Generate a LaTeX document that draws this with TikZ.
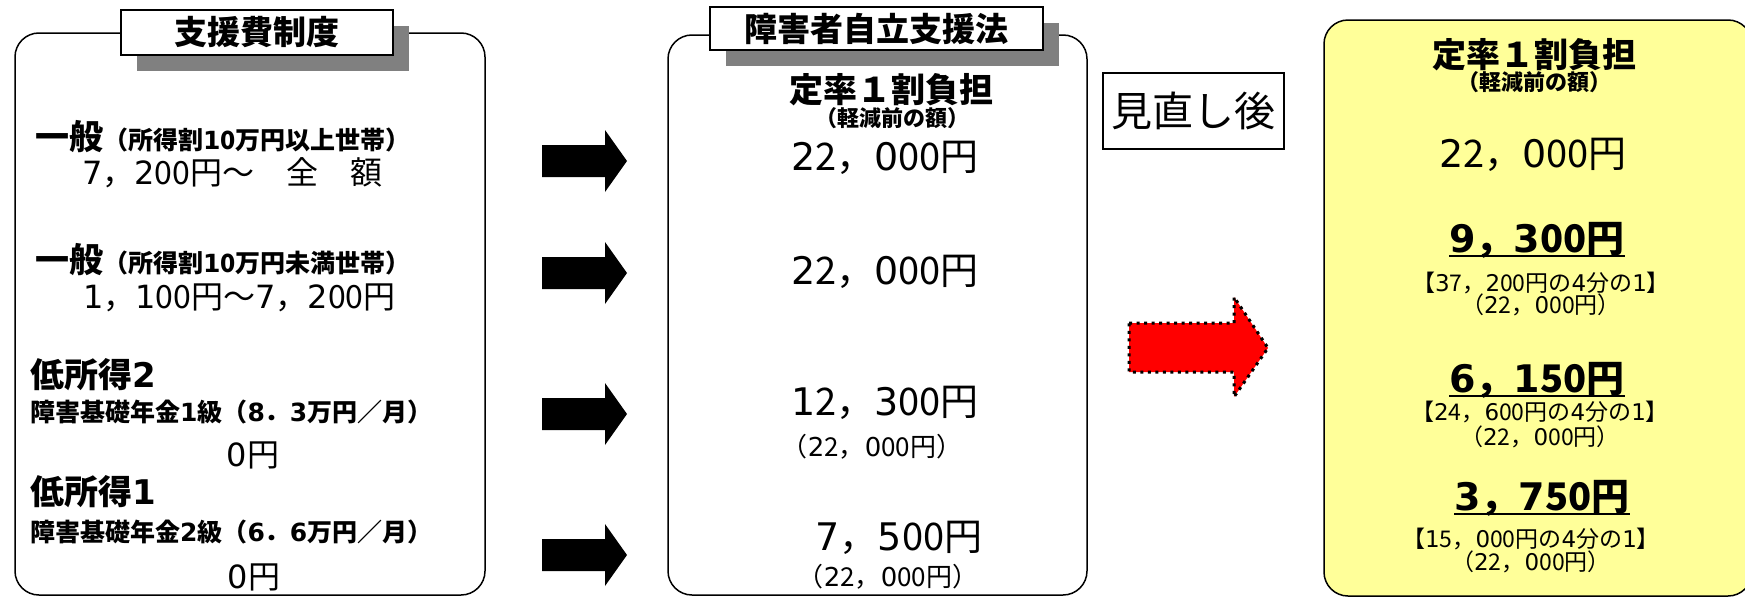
\documentclass[tikz,border=0pt]{standalone}
\usepackage{fontspec}
\setmainfont{Noto Sans CJK JP}
\newfontfamily\kanjifont{Noto Sans CJK JP}
\newfontfamily\digitfont{DejaVu Sans}
\usetikzlibrary{shadows}
\definecolor{yellowbg}{HTML}{FFFF99}

% digits in a wider face
\XeTeXinterchartokenstate=1
\newXeTeXintercharclass\digitclass
\XeTeXcharclass`0=\digitclass \XeTeXcharclass`1=\digitclass
\XeTeXcharclass`2=\digitclass \XeTeXcharclass`3=\digitclass
\XeTeXcharclass`4=\digitclass \XeTeXcharclass`5=\digitclass
\XeTeXcharclass`6=\digitclass \XeTeXcharclass`7=\digitclass
\XeTeXcharclass`8=\digitclass \XeTeXcharclass`9=\digitclass
\XeTeXinterchartoks 0 \digitclass={\digitfont}
\XeTeXinterchartoks 1 \digitclass={\digitfont}
\XeTeXinterchartoks 2 \digitclass={\digitfont}
\XeTeXinterchartoks 3 \digitclass={\digitfont}
\XeTeXinterchartoks 4095 \digitclass={\digitfont}
\XeTeXinterchartoks \digitclass 0={\kanjifont}
\XeTeXinterchartoks \digitclass 1={\kanjifont}
\XeTeXinterchartoks \digitclass 2={\kanjifont}
\XeTeXinterchartoks \digitclass 3={\kanjifont}

\begin{document}
\begin{tikzpicture}[
    x=1pt, y=-1pt,
    frame/.style={draw, line width=1.5pt, rounded corners=24pt},
    title/.style={draw, line width=1.5pt, fill=white, inner sep=0pt, font=\bfseries\fontsize{33}{36}\selectfont,
        drop shadow={shadow xshift=16pt, shadow yshift=-16pt, fill=black!50, opacity=1}},
    grade/.style={anchor=west, inner sep=0pt, font=\bfseries\fontsize{25}{27}\selectfont},
    level/.style={anchor=west, inner sep=0pt, font=\bfseries\fontsize{34}{36}\selectfont},
    big/.style={inner sep=0pt, font=\fontsize{32}{34}\selectfont},
    amount/.style={inner sep=0pt, font=\fontsize{38}{40}\selectfont},
    note/.style={inner sep=0pt, font=\fontsize{26}{28}\selectfont},
    rate/.style={inner sep=0pt, font=\bfseries\fontsize{34}{36}\selectfont},
    small/.style={inner sep=0pt, font=\bfseries\fontsize{22}{24}\selectfont},
    newamt/.style={inner sep=0pt, font=\bfseries\fontsize{38}{40}\selectfont},
    ratio/.style={inner sep=0pt, text height=17pt, text depth=3pt, font=\fontsize{23}{25}\selectfont},
    uline/.style={line width=2.5pt},
    blkarrow/.style={fill=black},
    redarrow/.style={fill=red, draw=black, line width=3pt, dash pattern=on 3pt off 4.5pt}
]
    \useasboundingbox (0,0) rectangle (1745,597);
    \fill[white] (0,0) rectangle (1745,597);

    % 支援費制度
    \draw[frame] (15,33) rectangle (485,595);
    \node[title, minimum width=272pt, minimum height=45pt] (oldtitle) at (257,32.5) {支援費制度};

    \node[grade] (gen1) at (35,137) {{\fontsize{34}{36}\selectfont 一般}（所得割10万円以上世帯）};
    \node[big, anchor=west] (cost1) at (82,173) {7，200円～　全　額};
    \node[grade] (gen2) at (35,260) {{\fontsize{34}{36}\selectfont 一般}（所得割10万円未満世帯）};
    \node[big, anchor=west] (cost2) at (83,298) {1，100円～7，200円};
    \node[level] (low2) at (30,375) {低所得2};
    \node[grade] (pen1) at (30,412) {障害基礎年金1級（8．3万円／月）};
    \node[big] (cost3) at (253,455) {0円};
    \node[level] (low1) at (30,492) {低所得1};
    \node[grade] (pen2) at (30,532) {障害基礎年金2級（6．6万円／月）};
    \node[big] (cost4) at (254,577) {0円};

    % arrows
    \foreach \y in {161,273,414,555}
        \fill[blkarrow] (542,\y-16) -- (605,\y-16) -- (605,\y-31) -- (627,\y)
            -- (605,\y+31) -- (605,\y+16) -- (542,\y+16) -- cycle;

    % 障害者自立支援法
    \draw[frame] (668,35) rectangle (1087,595);
    \node[title, minimum width=333pt, minimum height=43pt] (newtitle) at (876.5,28.5) {障害者自立支援法};

    \node[rate] (rate1) at (891,90) {定率１割負担};
    \node[small] (pre1) at (892,118) {（軽減前の額）};
    \node[amount] (law1) at (885,158) {22，000円};
    \node[amount] (law2) at (885,272) {22，000円};
    \node[amount] (law3) at (885,403) {12，300円};
    \node[note] (cap3) at (872,447) {（22，000円）};
    \node[amount] (law4) at (899,538) {7，500円};
    \node[note] (cap4) at (888,577) {（22，000円）};

    \node[draw, line width=1.5pt, minimum width=181pt, minimum height=76pt, inner sep=0pt,
        font=\fontsize{41}{44}\selectfont] (after) at (1193.5,111) {見直し後};

    \filldraw[redarrow] (1129,323) -- (1234,323) -- (1234,297) -- (1268,348)
        -- (1234,397) -- (1234,372) -- (1129,372) -- cycle;

    % 見直し後
    \filldraw[frame, fill=yellowbg] (1324,20) rectangle (1752,596);

    \node[rate] (rate2) at (1534,55) {定率１割負担};
    \node[small] (pre2) at (1534,82) {（軽減前の額）};
    \node[amount] (cut1) at (1533,155) {22，000円};
    \node[newamt] (cut2) at (1537,240) {9，300円};
    \node[ratio] (quart2) at (1541,284) {【37，200円の4分の1】};
    \node[ratio] (base2) at (1541,306) {（22，000円）};
    \node[newamt] (cut3) at (1537,380) {6，150円};
    \node[ratio] (quart3) at (1540,413) {【24，600円の4分の1】};
    \node[ratio] (base3) at (1540,438) {（22，000円）};
    \node[newamt] (cut4) at (1542,498) {3，750円};
    \node[ratio] (quart4) at (1531,540) {【15，000円の4分の1】};
    \node[ratio] (base4) at (1531,563) {（22，000円）};

    \foreach \n in {cut2,cut3,cut4}
        \draw[uline] ([yshift=-4pt]\n.base west) -- ([yshift=-4pt]\n.base east);
\end{tikzpicture}
\end{document}
